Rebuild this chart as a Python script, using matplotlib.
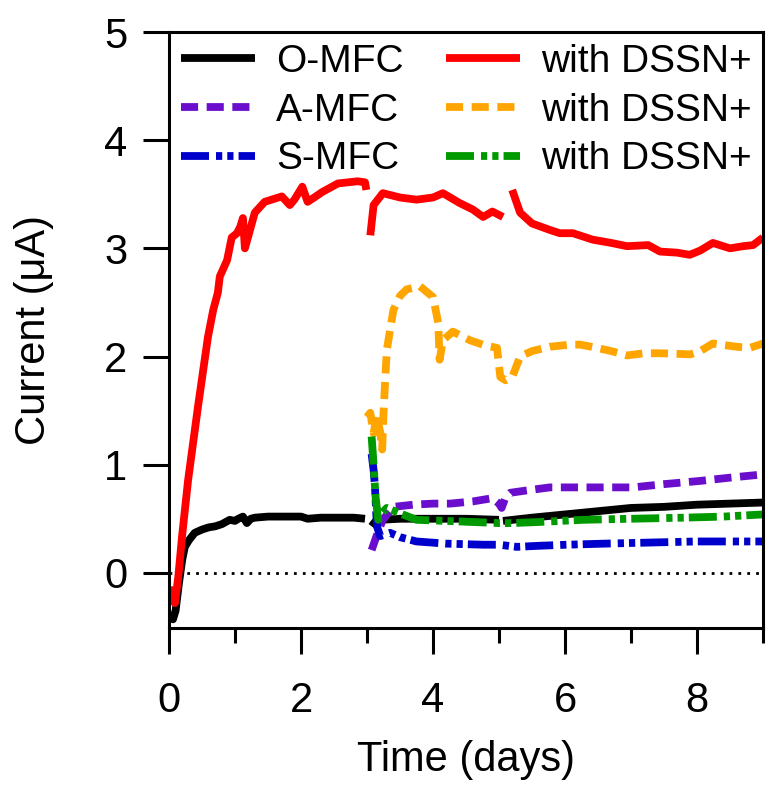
import numpy as np
import matplotlib
matplotlib.use("Agg")
import matplotlib.pyplot as plt
from matplotlib.ticker import MultipleLocator

nan = np.nan

# O-MFC (black)
o_x = [0, 0.03, 0.06, 0.1, 0.15, 0.2, 0.24, 0.3, 0.39, 0.5, 0.6, 0.7, 0.8, 0.92, 1.0, 1.05, 1.12,
       1.18, 1.24, 1.3, 1.5, 1.8, 2.0, 2.1, 2.3, 2.5, 2.8, 2.97, 3.0, 3.07, 3.12, 3.2, 3.5, 4.0,
       4.5, 5.0, 5.03, 5.06, 5.5, 6.0, 6.5, 7.0, 7.5, 8.0, 8.5, 9.0]
o_y = [-0.37, -0.42, -0.43, -0.35, -0.1, 0.12, 0.24, 0.3, 0.37, 0.4, 0.42, 0.43, 0.45, 0.49, 0.48,
       0.5, 0.52, 0.46, 0.5, 0.51, 0.52, 0.52, 0.52, 0.5, 0.51, 0.51, 0.51, 0.5, nan, 0.43, 0.47,
       0.49, 0.5, 0.5, 0.5, 0.49, nan, 0.48, 0.51, 0.54, 0.57, 0.6, 0.61, 0.63, 0.64, 0.65]

# O-MFC with DSSN+ (red)
r_x = [0, 0.04, 0.09, 0.14, 0.2, 0.29, 0.44, 0.59, 0.67, 0.74, 0.77, 0.88, 0.95, 1.03, 1.08,
       1.12, 1.15, 1.3, 1.45, 1.71, 1.83, 1.9, 2.02, 2.1, 2.2, 2.32, 2.56, 2.86, 2.97, 2.99, 3.02,
       3.05, 3.1, 3.24, 3.5, 3.75, 4.0, 4.15, 4.4, 4.6, 4.76, 4.9, 5.06, 5.1,
       5.2, 5.32, 5.5, 5.77, 5.92, 6.12, 6.42, 6.7, 6.94, 7.26, 7.44, 7.7, 7.89, 8.05, 8.24, 8.5,
       8.7, 8.85, 9.0]
r_y = [-0.13, -0.25, -0.28, -0.04, 0.35, 0.86, 1.54, 2.18, 2.43, 2.59, 2.74, 2.89, 3.1, 3.14, 3.2,
       3.28, 3.0, 3.33, 3.43, 3.48, 3.4, 3.45, 3.57, 3.43, 3.47, 3.52, 3.6, 3.62, 3.61, 3.54, nan,
       3.12, 3.4, 3.51, 3.47, 3.45, 3.47, 3.51, 3.42, 3.36, 3.29, 3.34, 3.29, nan,
       3.54, 3.33, 3.23, 3.17, 3.14, 3.14, 3.08, 3.05, 3.02, 3.03, 2.97, 2.96, 2.94, 2.98, 3.05,
       3.0, 3.02, 3.03, 3.1]

# A-MFC (purple)
a_x = [3.07, 3.15, 3.24, 3.4, 3.7, 4.0, 4.26, 4.6, 4.9, 5.0, 5.04, 5.1, 5.17, 5.4, 5.77, 6.2, 6.6,
       7.03, 7.5, 8.05, 8.5, 9.0]
a_y = [0.21, 0.35, 0.49, 0.61, 0.63, 0.64, 0.64, 0.66, 0.69, 0.64, 0.6, 0.7, 0.74, 0.76, 0.79,
       0.79, 0.79, 0.79, 0.82, 0.85, 0.88, 0.91]

# A-MFC with DSSN+ (orange)
ao_x = [3.0, 3.05, 3.1, 3.15, 3.2, 3.23, 3.25, 3.3, 3.4, 3.5, 3.6, 3.8, 4.0, 4.08, 4.1, 4.15,
        4.3, 4.56, 4.8, 4.97, 5.02, 5.1, 5.2, 5.32, 5.5, 5.77, 6.08, 6.23, 6.48, 6.7, 6.94, 7.2,
        7.44, 7.9, 8.05, 8.24, 8.6, 8.8, 9.0]
ao_y = [1.44, 1.48, 1.29, 1.45, 1.3, 1.14, 1.48, 2.06, 2.43, 2.56, 2.62, 2.65, 2.55, 2.31, 1.97,
        2.15, 2.23, 2.15, 2.1, 2.08, 1.81, 1.78, 1.81, 2.0, 2.05, 2.09, 2.11, 2.11, 2.08, 2.05,
        2.01, 2.03, 2.03, 2.02, 2.05, 2.12, 2.09, 2.08, 2.12]

# S-MFC (blue)
s_x = [3.07, 3.1, 3.12, 3.15, 3.2, 3.35, 3.5, 3.75, 4.2, 4.76, 5.0, 5.27, 5.6, 6.03, 6.6, 7.29,
       8.0, 9.0]
s_y = [1.1, 0.95, 0.8, 0.43, 0.34, 0.37, 0.33, 0.29, 0.27, 0.26, 0.26, 0.24, 0.25, 0.26, 0.27,
       0.28, 0.29, 0.29]

# S-MFC with DSSN+ (green)
sg_x = [3.07, 3.1, 3.13, 3.17, 3.22, 3.3, 3.5, 3.75, 4.2, 4.6, 5.0, 5.2, 5.6, 6.27, 7.0, 7.8,
        8.4, 9.0]
sg_y = [1.26, 1.0, 0.7, 0.49, 0.55, 0.6, 0.55, 0.49, 0.48, 0.47, 0.46, 0.46, 0.47, 0.49, 0.5,
        0.51, 0.52, 0.54]

labels_left = ["O-MFC", "A-MFC", "S-MFC"]
labels_right = ["with DSSN+", "with DSSN+", "with DSSN+"]
x_ticks = [0, 2, 4, 6, 8]
y_ticks = [0, 1, 2, 3, 4, 5]

plt.rcParams['font.family'] = ['Liberation Sans', 'DejaVu Sans']

fig = plt.figure(figsize=(7.67, 7.85), dpi=100)
ax = fig.add_axes([169 / 767, 1 - 628 / 785, (763 - 169) / 767, (628 - 32) / 785])

LW = 5.6
dash = (0, (2.2, 1.1))
dashdotdot = (0, (3.6, 0.9, 0.8, 0.65, 0.8, 0.65))

ax.axhline(0, color='black', lw=2, ls=(0, (1, 2.2)), zorder=1)

h_o, = ax.plot(o_x, o_y, color='black', lw=LW, solid_capstyle='butt')
h_a, = ax.plot(a_x, a_y, color='#6a0dcc', lw=LW, ls=dash)
h_s, = ax.plot(s_x, s_y, color='#0000cc', lw=LW, ls=dashdotdot)
h_r, = ax.plot(r_x, r_y, color='#ff0000', lw=LW, solid_capstyle='butt')
h_ao, = ax.plot(ao_x, ao_y, color='#ffa500', lw=LW, ls=dash)
h_sg, = ax.plot(sg_x, sg_y, color='#009900', lw=LW, ls=dashdotdot)

ax.set_xlim(0, 9)
ax.set_ylim(-0.51, 5)
ax.set_xticks(x_ticks)
ax.set_yticks(y_ticks)
ax.xaxis.set_minor_locator(MultipleLocator(1))

for s in ax.spines.values():
    s.set_linewidth(2.2)

ax.tick_params(axis='both', which='major', direction='out', length=19, width=2.2,
               labelsize=30)
ax.tick_params(axis='x', which='major', pad=19)
ax.tick_params(axis='y', which='major', pad=11)
ax.tick_params(axis='x', which='minor', direction='out', length=11, width=2.2)

ax.set_xlabel("Time (days)", fontsize=30, labelpad=14)
ax.set_ylabel("Current (μA)", fontsize=30, labelpad=36)

leg = ax.legend([h_o, h_a, h_s, h_r, h_ao, h_sg], labels_left + labels_right, ncol=2,
                loc='upper left', bbox_to_anchor=(0.0, 1.0), frameon=False, fontsize=28,
                handlelength=1.9, handletextpad=0.55, columnspacing=1.1, labelspacing=0.33,
                borderaxespad=0.15, borderpad=0.15)

fig.savefig("out.png", dpi=100)
